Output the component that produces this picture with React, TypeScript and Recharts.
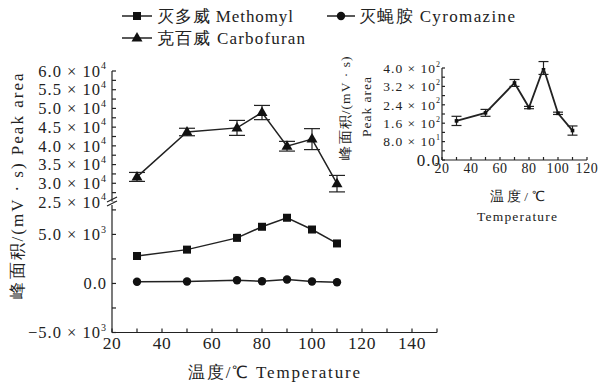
import React from 'react';
import { LineChart, Line, XAxis, YAxis, ErrorBar } from 'recharts';

const temps = [30, 50, 70, 80, 90, 100, 110];
const methomyl = [2800, 3450, 4650, 5780, 6700, 5500, 4080];
const cyromazine = [170, 205, 335, 228, 400, 203, 128];
const cyromazineErr = [20, 15, 15, 5, 28, 5, 20];
const carbofuran = [31700, 43700, 44800, 48900, 39900, 41800, 29900];
const carbofuranErr = [1200, 1000, 2000, 1900, 1300, 2800, 2200];

const xTicksMain = [20, 30, 40, 50, 60, 70, 80, 90, 100, 110, 120, 130, 140, 150];
const xLabelsMain = [20, 40, 60, 80, 100, 120, 140];
const upperTicks = [25000, 27500, 30000, 32500, 35000, 37500, 40000, 42500, 45000, 47500, 50000, 52500, 55000, 57500, 60000];
const upperLabels: Record<number, [string, string]> = {
  25000: ['2.5 × 10', '4'], 30000: ['3.0 × 10', '4'], 35000: ['3.5 × 10', '4'], 40000: ['4.0 × 10', '4'],
  45000: ['4.5 × 10', '4'], 50000: ['5.0 × 10', '4'], 55000: ['5.5 × 10', '4'], 60000: ['6.0 × 10', '4'],
};
const lowerTicks = [-5000, -2500, 0, 2500, 5000, 7500];
const lowerLabels: Record<number, [string, string]> = {
  [-5000]: ['−5.0 × 10', '3'], 0: ['0.0', ''], 5000: ['5.0 × 10', '3'],
};
const insetXTicks = [20, 30, 40, 50, 60, 70, 80, 90, 100, 110, 120];
const insetXLabels = [20, 40, 60, 80, 100, 120];
const insetYTicks = [0, 40, 80, 120, 160, 200, 240, 280, 320, 360, 400];
const insetYLabels: Record<number, [string, string]> = {
  0: ['0.0', ''], 80: ['8.0 × 10', '1'], 160: ['1.6 × 10', '2'], 240: ['2.4 × 10', '2'],
  320: ['3.2 × 10', '2'], 400: ['4.0 × 10', '2'],
};

const data = temps.map((t, i) => ({
  t,
  methomyl: methomyl[i],
  cyromazine: cyromazine[i],
  cyromazineErr: cyromazineErr[i],
  carbofuran: carbofuran[i],
  carbofuranErr: carbofuranErr[i],
}));

const FONT = 'Liberation Serif';
const W = 598;
const H = 383;

const makeYTick = (labels: Record<number, [string, string]>, fs: number, sup: number, ls: number, zeroFs?: number) => (props: any) => {
  const { x, y, payload } = props;
  const lab = labels[payload.value];
  if (!lab) return <g />;
  const size = payload.value === 0 && zeroFs ? zeroFs : fs;
  return (
    <text x={x} y={y + size * 0.35} textAnchor="end" style={{ fontFamily: FONT }} fontSize={size} fill="#222" letterSpacing={ls}>
      <tspan>{lab[0]}</tspan>
      {lab[1] ? <tspan dy={-fs * 0.45} fontSize={sup}>{lab[1]}</tspan> : null}
    </text>
  );
};

const makeXTick = (labels: number[], fs: number, ls: number) => (props: any) => {
  const { x, y, payload } = props;
  if (!labels.includes(payload.value)) return <g />;
  return (
    <text x={x} y={y + fs * 0.7} textAnchor="middle" style={{ fontFamily: FONT }} fontSize={fs} fill="#222" letterSpacing={ls}>
      {payload.value}
    </text>
  );
};

const Square = (p: any) => {
  const { cx, cy } = p;
  if (cx == null || cy == null) return <g />;
  return <rect x={cx - 4} y={cy - 4} width={8} height={8} fill="#111" />;
};
const Circle = (p: any) => {
  const { cx, cy } = p;
  if (cx == null || cy == null) return <g />;
  return <circle cx={cx} cy={cy} r={4.2} fill="#111" />;
};
const Tri = (p: any) => {
  const { cx, cy } = p;
  if (cx == null || cy == null) return <g />;
  return <polygon points={`${cx},${cy - 6} ${cx - 5.5},${cy + 3.5} ${cx + 5.5},${cy + 3.5}`} fill="#111" />;
};
const SmallDot = (p: any) => {
  const { cx, cy } = p;
  if (cx == null || cy == null) return <g />;
  return <rect x={cx - 1.8} y={cy - 1.8} width={3.6} height={3.6} fill="#111" />;
};

const axisStyle = { stroke: '#222', strokeWidth: 1.2 };
const abs: React.CSSProperties = { position: 'absolute', left: 0, top: 0 };
const tf: React.CSSProperties = { fontFamily: FONT };

export default function App() {
  const yAxW = 60;
  return (
    <div style={{ position: 'absolute', left: 0, top: 0, width: W, height: H, background: '#fff', overflow: 'hidden' }}>
      {/* lower panel */}
      <div style={abs}>
        <LineChart width={W} height={H} data={data} margin={{ top: 205, left: 112 - yAxW, right: W - 437, bottom: H - 332.5 - 30 }}>
          <XAxis
            type="number" dataKey="t" domain={[20, 150]} ticks={xTicksMain} allowDataOverflow
            axisLine={axisStyle} tickLine={axisStyle} tickSize={-4} tickMargin={8} height={30}
            tick={makeXTick(xLabelsMain, 17.5, 0.6)} interval={0}
          />
          <YAxis
            type="number" domain={[-5000, 8000]} ticks={lowerTicks} allowDataOverflow width={yAxW}
            axisLine={axisStyle} tickLine={axisStyle} tickSize={-4} tickMargin={9}
            tick={makeYTick(lowerLabels, 16.5, 10, 1.0)} interval={0}
          />
          <Line dataKey="methomyl" stroke="#222" strokeWidth={1.5} dot={<Square />} isAnimationActive={false} />
          <Line dataKey="cyromazine" stroke="#222" strokeWidth={1.5} dot={<Circle />} isAnimationActive={false} />
        </LineChart>
      </div>
      {/* upper panel */}
      <div style={abs}>
        <LineChart width={W} height={240} data={data} margin={{ top: 71, left: 112 - yAxW, right: W - 437, bottom: 38 }}>
          <XAxis type="number" dataKey="t" domain={[20, 150]} hide />
          <YAxis
            type="number" domain={[25000, 60000]} ticks={upperTicks} allowDataOverflow width={yAxW}
            axisLine={axisStyle} tickLine={axisStyle} tickSize={-4} tickMargin={9}
            tick={makeYTick(upperLabels, 16.5, 10, 1.0)} interval={0}
          />
          <Line dataKey="carbofuran" stroke="#222" strokeWidth={1.5} dot={<Tri />} isAnimationActive={false}>
            <ErrorBar dataKey="carbofuranErr" width={8} stroke="#222" strokeWidth={1.2} direction="y" />
          </Line>
        </LineChart>
      </div>
      {/* inset */}
      <div style={abs}>
        <LineChart width={W} height={H} data={data} margin={{ top: 68, left: 442 - 50, right: W - 587, bottom: H - 160 - 20 }}>
          <XAxis
            type="number" dataKey="t" domain={[20, 120]} ticks={insetXTicks} allowDataOverflow
            axisLine={axisStyle} tickLine={axisStyle} tickSize={-3} tickMargin={6} height={20}
            tick={makeXTick(insetXLabels, 14, 0.6)} interval={0}
          />
          <YAxis
            type="number" domain={[0, 400]} ticks={insetYTicks} allowDataOverflow width={50}
            axisLine={axisStyle} tickLine={axisStyle} tickSize={-3} tickMargin={4}
            tick={makeYTick(insetYLabels, 13.5, 8, 1.0, 17)} interval={0}
          />
          <Line dataKey="cyromazine" stroke="#222" strokeWidth={1.8} dot={<SmallDot />} isAnimationActive={false}>
            <ErrorBar dataKey="cyromazineErr" width={5} stroke="#222" strokeWidth={1.2} direction="y" />
          </Line>
        </LineChart>
      </div>
      {/* overlay: titles, legend, axis break */}
      <svg width={W} height={H} style={abs}>
        <g fill="#222">
          <line x1={122} y1={16} x2={152} y2={16} stroke="#222" strokeWidth={1.5} />
          <rect x={133} y={12} width={8} height={8} fill="#111" />
          <text x={157} y={22} fontSize={17} style={tf} textLength={136} lengthAdjust="spacing">灭多威 Methomyl</text>
          <line x1={327} y1={16} x2={355} y2={16} stroke="#222" strokeWidth={1.5} />
          <circle cx={341} cy={16} r={4.2} fill="#111" />
          <text x={359} y={22} fontSize={17} style={tf} textLength={156} lengthAdjust="spacing">灭蝇胺 Cyromazine</text>
          <line x1={122} y1={38} x2={152} y2={38} stroke="#222" strokeWidth={1.5} />
          <polygon points="137,32 131.5,41.5 142.5,41.5" fill="#111" />
          <text x={157} y={44} fontSize={17} style={tf} textLength={148} lengthAdjust="spacing">克百威 Carbofuran</text>
          <text x={0} y={0} fontSize={17} style={tf} textAnchor="middle" transform="translate(23,186) rotate(-90)" textLength={225} lengthAdjust="spacing">峰面积/(mV · s) Peak area</text>
          <text x={274} y={378} fontSize={17} style={tf} textAnchor="middle" textLength={172} lengthAdjust="spacing">温度/℃  Temperature</text>
          <text x={0} y={0} fontSize={13.5} style={tf} textAnchor="middle" transform="translate(350,108) rotate(-90)" textLength={103} lengthAdjust="spacing">峰面积/(mV · s)</text>
          <text x={0} y={0} fontSize={13.5} style={tf} textAnchor="middle" transform="translate(371,107) rotate(-90)" textLength={60} lengthAdjust="spacing">Peak area</text>
          <text x={517} y={201} fontSize={13.5} style={tf} textAnchor="middle" textLength={55} lengthAdjust="spacing">温度/℃</text>
          <text x={517} y={221} fontSize={13.5} style={tf} textAnchor="middle" textLength={80} lengthAdjust="spacing">Temperature</text>
        </g>
        <rect x={106} y={201.5} width={12} height={2.5} fill="#fff" />
        <line x1={107} y1={202} x2={117} y2={197} stroke="#222" strokeWidth={1.2} />
        <line x1={107} y1={206} x2={117} y2={201} stroke="#222" strokeWidth={1.2} />
      </svg>
    </div>
  );
}
